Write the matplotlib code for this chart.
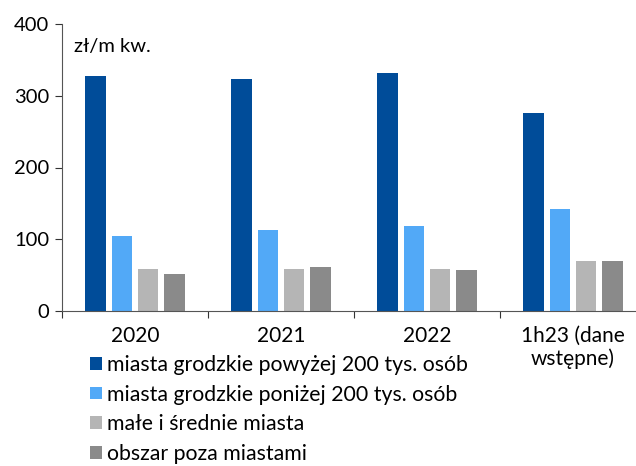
import matplotlib
matplotlib.use('Agg')
import matplotlib.pyplot as plt
import numpy as np

plt.rcParams['font.family'] = ['Lato', 'DejaVu Sans']

categories = ['2020', '2021', '2022', '1h23 (dane\nwstępne)']
series = ['miasta grodzkie powyżej 200 tys. osób',
          'miasta grodzkie poniżej 200 tys. osób',
          'małe i średnie miasta',
          'obszar poza miastami']
big_cities = [327, 323, 332, 276]
small_cities = [105, 113, 118, 142]
towns = [58, 58, 58, 69]
rural = [52, 62, 57, 69]
colors = ['#004C99', '#52A9F7', '#B5B5B5', '#8A8A8A']

values = [big_cities, small_cities, towns, rural]

fig = plt.figure(figsize=(6.36, 4.66), dpi=100)
ax = fig.add_axes([62 / 636, 1 - 311 / 466, 584 / 636, 287 / 466])

x = np.arange(len(categories))
w = 0.14
step = 0.18
handles = []
for i, (vals, c, lab) in enumerate(zip(values, colors, series)):
    b = ax.bar(x + (i - 1.5) * step, vals, w, color=c, label=lab)
    handles.append(b)

ax.set_xlim(-0.5, 3.5)
ax.set_ylim(0, 400)
ax.set_yticks([0, 100, 200, 300, 400])
ax.set_xticks(np.arange(-0.5, 3.6, 1.0))
ax.set_xticklabels([])
ax.set_xticks(x, minor=True)
ax.set_xticklabels(categories, minor=True, linespacing=1.2)
ax.tick_params(axis='x', which='minor', length=0, pad=10.5, labelsize=15)
ax.tick_params(axis='x', which='major', length=5, direction='out', color='#333333')
ax.tick_params(axis='y', length=5, labelsize=14.5, pad=4, color='#333333')
for s in ['top', 'right']:
    ax.spines[s].set_visible(False)
for s in ['left', 'bottom']:
    ax.spines[s].set_color('#555555')

ax.text(0.02, 0.95, 'zł/m kw.', transform=ax.transAxes, fontsize=14.5, va='top')

fig.legend(handles=handles, loc='upper left', bbox_to_anchor=(90 / 636, 1 - 355 / 466),
           frameon=False, fontsize=15.3, handlelength=0.55, handleheight=0.55,
           handletextpad=0.25, labelspacing=0.45, borderaxespad=0, borderpad=0)

fig.savefig('out.png', dpi=100)
